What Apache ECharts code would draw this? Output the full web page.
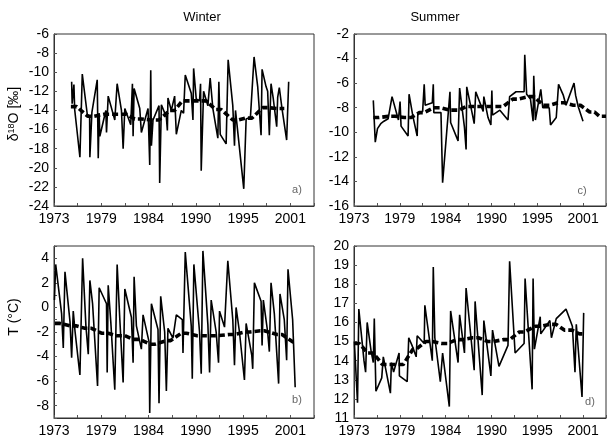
<!DOCTYPE html>
<html>
<head>
<meta charset="utf-8">
<script src="https://cdn.jsdelivr.net/npm/echarts@6/dist/echarts.min.js"></script>
<style>html,body{margin:0;padding:0;background:#fff}#c{width:609px;height:441px}</style>
</head>
<body>
<div id="c"></div>
<script>
// ---- tick labels ----
const xTickLabels = ['1973','','1979','','1984','','1990','','1995','','2001',''];

// ---- a) Winter d18O ----
const aYears = [1975.09,1975.15,1975.36,1975.45,1976.07,1976.35,1976.94,1977.22,1977.25,1977.49,1978.12,1978.24,1978.35,1978.43,1979.14,1979.22,1979.42,1980.20,1980.48,1980.99,1981.19,1981.39,1982.09,1982.29,1982.37,1982.49,1983.16,1983.35,1984.14,1984.34,1984.46,1984.54,1984.73,1985.44,1985.52,1985.72,1986.31,1986.43,1986.50,1986.90,1987.29,1987.49,1988.08,1988.35,1988.55,1989.26,1989.46,1989.54,1989.85,1990.24,1990.36,1990.44,1990.72,1991.23,1991.50,1991.82,1992.41,1992.53,1992.69,1993.39,1993.63,1994.18,1994.38,1994.50,1995.48,1995.76,1996.27,1996.70,1997.13,1997.53,1997.65,1998.12,1998.31,1998.51,1998.71,1998.98,1999.38,1999.50,1999.69,2000.01,2000.56,2000.68,2000.80];
const aValues = [-11,-13.3,-11.3,-13.9,-18.9,-10.2,-14.4,-14.6,-18.9,-14.2,-10.8,-19.0,-14.3,-16.7,-14.0,-16.3,-12.5,-15.0,-11.2,-14.0,-18.0,-13.8,-15.5,-11.2,-16.7,-11.7,-13.8,-16.3,-13.8,-19.7,-9.8,-17.7,-15.0,-13.5,-21.6,-13.4,-14.7,-16.1,-12.7,-14.0,-12.5,-16.5,-14.0,-14.3,-10.3,-12.2,-15.0,-9.6,-12.8,-13.0,-11.2,-20.3,-12.0,-13.5,-10.6,-13.8,-16.9,-11.0,-16.5,-17.5,-8.7,-13.5,-17.7,-14.0,-22.2,-14.9,-14.7,-8.4,-11.5,-16.6,-9.7,-11.5,-12.0,-16.6,-11.2,-12.8,-15.7,-12.6,-11.6,-13.8,-17.1,-17.2,-11.0];
const aMeanStart = [1975.0,1976.98,1978.9,1980.8,1982.57,1984.54,1986.7,1988.2,1990.24,1992.13,1994.18,1995.68,1997.72,1999.5];
const aMeanEnd   = [1975.68,1977.76,1979.6,1981.58,1983.35,1985.44,1987.29,1989.0,1991.03,1992.8,1994.77,1996.46,1998.31,2000.28];
const aMeanValues = [-13.6,-14.6,-14.4,-14.4,-14.9,-15.0,-14.0,-13.0,-13.0,-13.9,-15.0,-14.8,-13.7,-13.8];

// ---- c) Summer d18O ----
const cYears = [1975.36,1975.60,1975.87,1976.27,1976.66,1977.17,1977.65,1978.43,1978.63,1978.75,1979.61,1979.73,1980.20,1980.72,1980.80,1981.39,1981.58,1981.70,1982.57,1982.69,1982.76,1983.63,1983.83,1984.73,1984.81,1985.72,1985.91,1986.50,1986.70,1986.78,1987.49,1987.69,1987.88,1988.79,1988.87,1989.38,1989.73,1989.85,1989.93,1990.83,1991.82,1992.02,1992.80,1993.79,1993.87,1994.10,1994.57,1994.89,1994.97,1995.17,1995.83,1996.07,1996.86,1997.02,1997.72,1998.00,1998.59,1998.91,1999.89,2000.09,2000.40,2000.99];
const cValues = [-7.4,-10.8,-9.7,-9.3,-9.1,-8.9,-7.1,-9.0,-7.5,-9.5,-10.3,-6.9,-8.7,-10.3,-8.5,-8.3,-6.1,-7.8,-7.6,-6.1,-8.4,-8.4,-14.1,-6.7,-9.2,-10.7,-6.4,-9.6,-11.4,-6.3,-8.6,-9.3,-6.7,-8.3,-7.1,-8.8,-9.4,-6.6,-8.6,-8.2,-9.0,-7.1,-6.7,-6.7,-3.7,-6.9,-7.3,-9.1,-5.4,-9.0,-6.5,-8.0,-8.0,-9.4,-8.8,-6.1,-7.0,-7.8,-6.0,-7.0,-7.9,-9.1];
const cMeanStart = [1975.36,1977.25,1979.14,1980.99,1982.76,1984.73,1986.7,1988.67,1990.44,1992.41,1994.38,1996.15,1997.92,1999.81,2001.8,2003.0];
const cMeanEnd   = [1976.07,1978.04,1980.0,1981.58,1983.63,1985.83,1987.41,1989.46,1991.23,1993.0,1994.97,1996.94,1998.71,2000.68,2002.4,2003.8];
const cMeanValues = [-8.8,-8.7,-8.8,-8.4,-8.0,-8.2,-7.9,-7.9,-7.9,-7.3,-7.1,-7.8,-7.6,-7.8,-8.35,-8.7];

// ---- b) Winter T ----
const bYears = [1973.05,1973.2,1973.9,1974.1,1974.3,1974.9,1975.09,1975.28,1975.5,1976.07,1976.39,1976.78,1977.06,1977.25,1977.57,1978.16,1978.35,1979.22,1979.30,1979.42,1979.73,1980.20,1980.48,1980.80,1981.19,1981.39,1982.17,1982.37,1982.49,1982.76,1983.35,1983.55,1984.26,1984.34,1984.54,1985.32,1985.44,1985.64,1986.11,1986.31,1986.50,1987.09,1987.49,1988.20,1988.28,1988.55,1989.26,1989.38,1989.57,1990.24,1990.44,1990.64,1991.23,1991.43,1991.62,1992.21,1992.49,1992.61,1993.20,1993.59,1994.18,1994.38,1994.57,1994.97,1995.56,1995.76,1996.43,1996.54,1996.74,1997.53,1997.65,1997.80,1998.31,1998.51,1998.71,1999.10,1999.61,1999.77,2000.28,2000.56,2000.72,2001.27,2001.57];
const bValues = [0.6,3.5,-0.5,-3.3,2.9,-1.2,-4.1,-0.3,-2.0,-5.5,4.0,-1.5,-3.8,2.2,0.3,-6.4,1.6,0.3,-5.3,1.8,-1.2,-6.7,3.5,-1.0,-6.1,1.5,-0.8,-4.5,2.5,-1.5,-3.4,-0.6,-2.8,-8.6,0.3,-1.8,-7.8,0.9,-2.0,-6.8,-1.7,-2.5,-0.6,-1.0,-3.7,4.5,-1.5,-5.8,3.5,-2.0,-5.4,4.6,-1.4,-5.3,0.6,-2.0,-4.5,-0.3,-1.6,3.8,-1.0,-4.7,0.0,-2.0,-5.9,-1.3,-3.9,-5.0,2.0,0.5,-3.1,0.6,-2.0,-3.6,2.0,-0.5,-6.2,1.1,-1.0,-4.3,3.1,-1.0,-6.5];
const bMeanStart = [1973.12,1974.89,1976.66,1978.63,1980.4,1982.37,1984.42,1986.31,1988.08,1989.97,1992.02,1993.79,1995.64,1997.45,1999.42,2001.27];
const bMeanEnd   = [1973.71,1975.6,1977.45,1979.42,1981.39,1983.16,1984.93,1986.82,1988.67,1990.44,1992.41,1994.38,1996.23,1997.92,2000.01,2001.66];
const bMeanValues = [-1.3,-1.5,-1.7,-2.1,-2.3,-2.6,-3.0,-2.7,-2.1,-2.3,-2.3,-2.2,-2.0,-1.9,-2.2,-2.8];

// ---- d) Summer T ----
const dYears = [1973.04,1973.43,1973.59,1974.22,1974.42,1974.61,1975.09,1975.36,1975.48,1975.68,1976.39,1976.58,1976.86,1977.45,1977.57,1977.84,1978.51,1978.55,1979.50,1979.69,1980.09,1980.60,1980.72,1981.58,1981.66,1982.57,1982.69,1982.88,1983.55,1983.83,1984.65,1984.81,1985.72,1985.91,1986.50,1986.70,1987.69,1987.80,1988.67,1988.87,1989.73,1989.93,1990.72,1991.82,1992.02,1992.69,1993.79,1993.91,1994.77,1994.89,1995.05,1995.76,1995.83,1996.94,1997.13,1997.72,1998.91,1999.69,2000.01,2000.17,2000.87,2001.07];
const dValues = [15.0,11.8,16.7,14.0,13.4,16.0,14.5,13.9,16.2,12.4,13.1,14.2,13.6,12.3,13.9,13.4,14.4,13.2,12.9,15.2,14.8,14.2,15.3,14.9,16.9,14.0,18.9,15.2,12.9,14.4,11.6,16.6,13.9,16.4,14.4,17.8,13.5,17.1,12.2,16.1,13.2,15.6,13.7,14.8,19.2,14.4,14.9,18.3,12.5,18.3,14.6,16.3,15.4,16.1,15.2,16.2,16.7,15.8,13.4,15.9,12.1,16.5];
const dMeanStart = [1973.04,1974.69,1976.46,1978.43,1980.2,1981.78,1983.67,1985.52,1987.49,1989.38,1991.23,1993.2,1995.17,1996.94,1998.71,2000.56];
const dMeanEnd   = [1973.63,1975.36,1977.25,1979.02,1980.6,1982.57,1984.46,1986.31,1988.2,1990.05,1992.02,1993.79,1995.76,1997.72,1999.61,2001.27];
const dMeanValues = [14.9,14.4,13.8,13.8,14.6,15.0,14.9,15.1,15.2,15.0,15.1,15.5,15.8,15.9,15.6,15.4];

const FONT = '"Liberation Sans", Arial, sans-serif';
const pairs = (xs, ys) => xs.map((x, i) => [x, ys[i]]);
const steps = (s, e, v) => { const out = []; s.forEach((x, i) => { out.push([x, v[i]]); out.push([e[i], v[i]]); }); return out; };

const grids = [
  {left: 54, top: 34, width: 260, height: 172},
  {left: 354, top: 34, width: 260, height: 172},
  {left: 54, top: 246, width: 260, height: 172},
  {left: 354, top: 246, width: 260, height: 172}
].map(g => Object.assign({show: true, borderColor: '#333', borderWidth: 1, backgroundColor: '#fff'}, g));

const xAxes = [0,1,2,3].map(i => ({
  type: 'value', gridIndex: i, min: 1973, max: 2003.8, interval: 2.8,
  axisLine: {onZero: false, lineStyle: {color: '#333'}},
  axisTick: {inside: true, length: 3, lineStyle: {color: '#555'}},
  splitLine: {show: false},
  axisLabel: {color: '#000', fontFamily: FONT, fontSize: 14, margin: 6,
    showMinLabel: true, showMaxLabel: true,
    formatter: v => xTickLabels[Math.round((v - 1973) / 2.8)] || ''}
}));

const yBase = i => ({
  type: 'value', gridIndex: i,
  axisLine: {show: true, onZero: false, lineStyle: {color: '#333'}},
  axisTick: {show: true, inside: true, length: 3, lineStyle: {color: '#555'}},
  splitLine: {show: false},
  axisLabel: {color: '#000', fontFamily: FONT, fontSize: 14, margin: 5, showMinLabel: true, showMaxLabel: true}
});
const yAxes = [
  Object.assign(yBase(0), {min: -24, max: -6, interval: 2}),
  Object.assign(yBase(1), {min: -16, max: -2, interval: 2}),
  Object.assign(yBase(2), {min: -9, max: 5, interval: 1}),
  Object.assign(yBase(3), {min: 11, max: 20, interval: 1})
];
yAxes[2].axisLabel = Object.assign({}, yAxes[2].axisLabel, {formatter: v => (Math.round(v) % 2 === 0 ? String(v) : '')});

const thin = (i, data) => ({type: 'line', xAxisIndex: i, yAxisIndex: i, data, showSymbol: false, symbol: 'none',
  lineStyle: {color: '#000', width: 1.6}, animation: false, z: 2});
const thick = (i, data) => ({type: 'line', xAxisIndex: i, yAxisIndex: i, data, showSymbol: false, symbol: 'none',
  lineStyle: {color: '#000', width: 3.6, type: [6, 3]}, animation: false, z: 3});

const txt = (x, y, text, extra) => ({type: 'text', x, y, silent: true,
  style: Object.assign({text, fill: '#000', font: '13px ' + FONT, align: 'center', verticalAlign: 'middle'}, extra || {})});

const option = {
  backgroundColor: '#fff',
  animation: false,
  grid: grids,
  xAxis: xAxes,
  yAxis: yAxes,
  series: [
    thin(0, pairs(aYears, aValues)), thick(0, steps(aMeanStart, aMeanEnd, aMeanValues)),
    thin(1, pairs(cYears, cValues)), thick(1, steps(cMeanStart, cMeanEnd, cMeanValues)),
    thin(2, pairs(bYears, bValues)), thick(2, steps(bMeanStart, bMeanEnd, bMeanValues)),
    thin(3, pairs(dYears, dValues)), thick(3, steps(dMeanStart, dMeanEnd, dMeanValues))
  ],
  graphic: [
    txt(202, 17, 'Winter'),
    txt(435, 17, 'Summer'),
    {type: 'text', x: 14, y: 114, rotation: Math.PI / 2, silent: true,
      style: {text: 'δ{sup|18}O [‰]', fill: '#000', font: '14px ' + FONT, align: 'center', verticalAlign: 'middle',
        rich: {sup: {fontSize: 9, fontFamily: FONT, verticalAlign: 'top', padding: [0, 0, 5, 0]}}}},
    {type: 'text', x: 14, y: 317, rotation: Math.PI / 2, silent: true,
      style: {text: 'T (°C)', fill: '#000', font: '14px ' + FONT, align: 'center', verticalAlign: 'middle'}},
    txt(297, 190, 'a)', {fill: '#666', font: '11px ' + FONT}),
    txt(582, 191, 'c)', {fill: '#666', font: '11px ' + FONT}),
    txt(297, 400, 'b)', {fill: '#666', font: '11px ' + FONT}),
    txt(590, 402, 'd)', {fill: '#666', font: '11px ' + FONT})
  ]
};

const chart = echarts.init(document.getElementById('c'), null, {renderer: 'canvas'});
chart.setOption(option);
</script>
</body>
</html>
